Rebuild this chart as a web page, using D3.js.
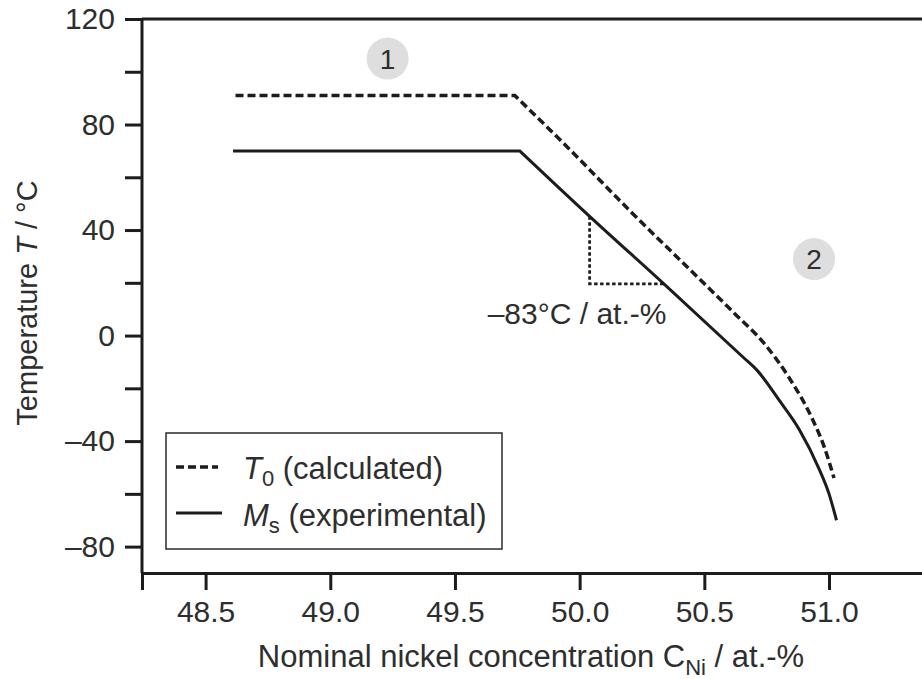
<!DOCTYPE html>
<html>
<head>
<meta charset="utf-8">
<script src="https://cdn.jsdelivr.net/npm/d3@7"></script>
<style>
  html, body { margin: 0; padding: 0; background: #ffffff; }
  svg { display: block; font-family: "Liberation Sans", Arial, Helvetica, sans-serif; }
</style>
</head>
<body>
<svg id="chart" width="922" height="679"></svg>
<script>
// Nominal Ni concentration (at.-%) vs. temperature (°C)
const t0Conc = [48.62, 49.74, 49.95, 50.21, 50.48, 50.62, 50.74, 50.84, 50.93, 50.98, 51.02];
const t0Temp = [91, 91, 71.5, 46.5, 21.5, 8.5, -3, -16, -31, -42, -54];

const msConc = [48.61, 49.76, 50.04, 50.34, 50.66, 50.71, 50.80, 50.88, 50.96, 51.00, 51.03];
const msTemp = [70, 70, 45.2, 19.4, -8.6, -13, -24.5, -35.5, -50.5, -60, -70];

// slope triangle under the Ms line (−83 °C per at.-%)
const slopeConc = [50.04, 50.34];
const slopeTemp = [45.2, 19.6];
const slopeLabel = "\u201383\u00B0C / at.-%";

const xTicks = [48.5, 49.0, 49.5, 50.0, 50.5, 51.0];
const yTicks = [-80, -60, -40, -20, 0, 20, 40, 60, 80, 100, 120];
const yLabelled = [-80, -40, 0, 40, 80, 120];

const regionLabels = ["1", "2"];
const regionConc = [49.23, 50.94];
const regionTemp = [105, 29];

const legendLabels = [["T", "0", " (calculated)"], ["M", "s", " (experimental)"]];

const ink = "#1c1c1c";
const textInk = "#2e2e2e";

const svg = d3.select("#chart");
const plotLeft = 142, plotTop = 19, plotBottom = 573, plotRight = 935;

const x = d3.scaleLinear().domain([48.245, 51.425]).range([plotLeft, plotRight]);
const y = d3.scaleLinear().domain([-90, 120]).range([plotBottom, plotTop]);

// top frame line
svg.append("line")
  .attr("x1", plotLeft).attr("x2", 922).attr("y1", plotTop).attr("y2", plotTop)
  .attr("stroke", ink).attr("stroke-width", 3);

const fmt = d => (d < 0 ? "\u2013" + Math.abs(d) : String(d));

// y axis
const yAxis = svg.append("g")
  .attr("transform", `translate(${plotLeft},0)`)
  .call(d3.axisLeft(y).tickValues(yTicks).tickSize(17).tickPadding(10)
    .tickFormat(d => yLabelled.includes(d) ? fmt(d) : ""));

// x axis
const xAxis = svg.append("g")
  .attr("transform", `translate(0,${plotBottom})`)
  .call(d3.axisBottom(x).tickValues(xTicks).tickSize(17).tickPadding(11)
    .tickFormat(d3.format(".1f")));

[yAxis, xAxis].forEach(g => {
  g.select(".domain").attr("stroke", ink).attr("stroke-width", 3);
  g.selectAll(".tick line").attr("stroke", ink).attr("stroke-width", 3);
  g.selectAll(".tick text")
    .attr("fill", textInk).attr("font-size", 30)
    .attr("font-family", "'Liberation Sans', Arial, sans-serif");
});
yAxis.select(".domain").attr("d", `M0,${plotBottom}V${plotTop}`);

// axis titles
const yTitle = svg.append("text")
  .attr("transform", "translate(37,303) rotate(-90)")
  .attr("text-anchor", "middle")
  .attr("font-size", 29).attr("fill", textInk);
yTitle.append("tspan").text("Temperature ");
yTitle.append("tspan").attr("font-style", "italic").text("T");
yTitle.append("tspan").text(" / \u00B0C");

const xTitle = svg.append("text")
  .attr("x", 531).attr("y", 667)
  .attr("text-anchor", "middle")
  .attr("font-size", 31).attr("fill", textInk);
xTitle.append("tspan").text("Nominal nickel concentration C");
xTitle.append("tspan").attr("font-size", 22).attr("dy", 8).text("Ni");
xTitle.append("tspan").attr("dy", -8).text(" / at.-%");

// curves: straight plateau, smooth descending branch
const flatLine = d3.line().x(d => x(d[0])).y(d => y(d[1]));
const smoothLine = d3.line().x(d => x(d[0])).y(d => y(d[1])).curve(d3.curveMonotoneX);
const pathOf = data => flatLine(data.slice(0, 2)) + "L" + smoothLine(data.slice(1)).slice(1);

const t0Data = t0Conc.map((c, i) => [c, t0Temp[i]]);
const msData = msConc.map((c, i) => [c, msTemp[i]]);

svg.append("path")
  .attr("d", pathOf(t0Data))
  .attr("fill", "none").attr("stroke", ink)
  .attr("stroke-width", 3.5).attr("stroke-dasharray", "8,4");

svg.append("path")
  .attr("d", pathOf(msData))
  .attr("fill", "none").attr("stroke", ink)
  .attr("stroke-width", 3);

// slope triangle
svg.append("path")
  .attr("d", flatLine([[slopeConc[0], slopeTemp[0]], [slopeConc[0], slopeTemp[1]], [slopeConc[1], slopeTemp[1]]]))
  .attr("fill", "none").attr("stroke", ink)
  .attr("stroke-width", 2.8).attr("stroke-dasharray", "3.5,2.5");

svg.append("text")
  .attr("x", x(slopeConc[1]) + 2).attr("y", y(slopeTemp[1]) + 40)
  .attr("text-anchor", "end")
  .attr("font-size", 30).attr("fill", textInk)
  .text(slopeLabel);

// region markers
regionLabels.forEach((lab, i) => {
  const g = svg.append("g")
    .attr("transform", `translate(${x(regionConc[i])},${y(regionTemp[i])})`);
  g.append("circle").attr("r", 21).attr("fill", "#dedede");
  g.append("text")
    .attr("text-anchor", "middle").attr("dy", "0.36em")
    .attr("font-size", 28).attr("fill", textInk)
    .text(lab);
});

// legend
svg.append("rect")
  .attr("x", 166).attr("y", 433).attr("width", 336).attr("height", 116)
  .attr("fill", "#ffffff").attr("stroke", "#2a2a2a").attr("stroke-width", 1.5);

const legendRows = [
  { y: 467, dash: "8,4", width: 3.5, x2: 218, base: 479 },
  { y: 513, dash: null, width: 3, x2: 222, base: 526 }
];
legendRows.forEach((r, i) => {
  svg.append("line")
    .attr("x1", 176).attr("x2", r.x2).attr("y1", r.y).attr("y2", r.y)
    .attr("stroke", ink).attr("stroke-width", r.width)
    .attr("stroke-dasharray", r.dash);
  const t = svg.append("text")
    .attr("x", 243).attr("y", r.base)
    .attr("font-size", 31).attr("fill", textInk);
  t.append("tspan").attr("font-style", "italic").text(legendLabels[i][0]);
  t.append("tspan").attr("font-size", 22).attr("dy", 7).text(legendLabels[i][1]);
  t.append("tspan").attr("dy", -7).text(legendLabels[i][2]);
});
</script>
</body>
</html>
